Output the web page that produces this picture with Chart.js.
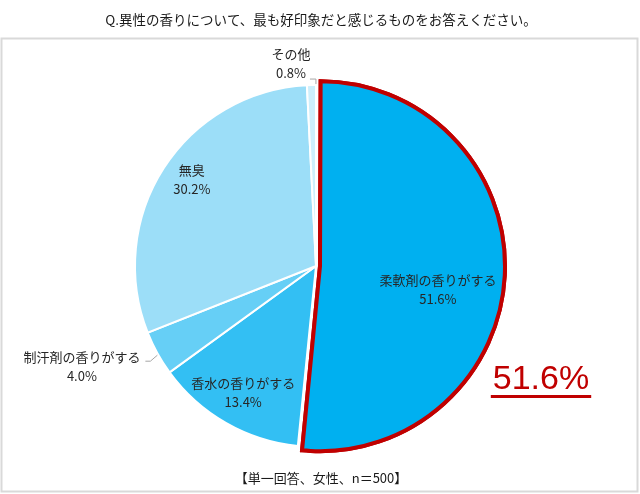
<!DOCTYPE html>
<html lang="ja">
<head>
<meta charset="utf-8">
<title>異性の香り</title>
<script src="https://cdn.jsdelivr.net/npm/chart.js@4.4.1/dist/chart.umd.min.js"></script>
<style>
  html, body { margin: 0; padding: 0; background: #fff; }
  #wrap { width: 640px; height: 494px; position: relative; }
</style>
</head>
<body>
<div id="wrap"><canvas id="pieChart"></canvas></div>
<script>
// ===== Data =====
const categories = ['柔軟剤の香りがする', '香水の香りがする', '制汗剤の香りがする', '無臭', 'その他'];
const shares = [51.6, 13.4, 4.0, 30.2, 0.8];
const titleText = 'Q.異性の香りについて、最も好印象だと感じるものをお答えください。';
const footText = '【単一回答、女性、n＝500】';

// ===== Styling =====
const sliceColors = ['#00b0f0', '#33bff3', '#66cff6', '#9cdef8', '#cdeffc'];
const sliceBorders = ['#c00000', '#ffffff', '#ffffff', '#ffffff', '#ffffff'];
const sliceBorderW = [4, 2, 2, 2, 2];
const sliceOffset = [16, 0, 0, 0, 0];
const JP = '"Noto Sans CJK JP", "Noto Sans", sans-serif';
const LINE_H = 19;

// where each label sits relative to its slice
// inside: r = fraction of radius, turn = degrees nudged clockwise
// outside: leader points and text block relative to the slice's outer edge
const labelPlace = [
  { inside: true, r: 0.686, turn: 8 },
  { inside: true, r: 0.807, turn: 0 },
  { inside: false, leader: [[0, 2], [-7, 8], [-12, 8]], right: -17, top: 4 },
  { inside: true, r: 0.835, turn: 2 },
  { inside: false, leader: [[4.5, -1], [4.5, -6], [-1.5, -6]], right: -1, top: -31 }
];

function drawBlock(ctx, lines, cx, cy) {
  lines.forEach((t, k) => ctx.fillText(t, cx, cy + k * LINE_H));
}

// ===== Frame, title, labels =====
const decorPlugin = {
  id: 'decor',
  beforeDraw(chart) {
    const ctx = chart.ctx;
    ctx.save();
    ctx.strokeStyle = '#d9d9d9';
    ctx.lineWidth = 2;
    ctx.strokeRect(1.5, 38.5, 636, 453);
    ctx.fillStyle = '#1a1a1a';
    ctx.font = '13.5px ' + JP;
    ctx.textAlign = 'center';
    ctx.textBaseline = 'middle';
    ctx.fillText(titleText, 321, 20);
    ctx.font = '13px ' + JP;
    ctx.fillText(footText, 321, 478);
    ctx.restore();
  },
  afterDatasetsDraw(chart) {
    const ctx = chart.ctx;
    const meta = chart.getDatasetMeta(0);
    // keep the red outline of the top answer above its neighbours
    meta.data[0].draw(ctx);

    ctx.save();
    ctx.font = '13px ' + JP;
    ctx.fillStyle = '#262626';
    ctx.textAlign = 'center';
    ctx.textBaseline = 'middle';
    meta.data.forEach((arc, i) => {
      const p = arc.getProps(['x', 'y', 'startAngle', 'endAngle', 'outerRadius'], true);
      const mid = (p.startAngle + p.endAngle) / 2;
      const lines = [categories[i], shares[i].toFixed(1) + '%'];
      const pl = labelPlace[i];
      if (pl.inside) {
        const a = mid + pl.turn * Math.PI / 180;
        const cx = p.x + Math.cos(a) * p.outerRadius * pl.r;
        const cy = p.y + Math.sin(a) * p.outerRadius * pl.r;
        drawBlock(ctx, lines, cx, cy - LINE_H / 2);
      } else {
        const ex = p.x + Math.cos(mid) * p.outerRadius;
        const ey = p.y + Math.sin(mid) * p.outerRadius;
        ctx.strokeStyle = '#a6a6a6';
        ctx.lineWidth = 1;
        ctx.beginPath();
        pl.leader.forEach(([dx, dy], k) => {
          if (k === 0) ctx.moveTo(ex + dx, ey + dy); else ctx.lineTo(ex + dx, ey + dy);
        });
        ctx.stroke();
        const w = Math.max(...lines.map(t => ctx.measureText(t).width));
        const cx = ex + pl.right - w / 2;
        drawBlock(ctx, lines, cx, ey + pl.top);
      }
    });

    // highlighted share
    const big = shares[0].toFixed(1) + '%';
    ctx.font = '34px "Liberation Sans", Arial, sans-serif';
    ctx.fillStyle = '#c00000';
    ctx.textBaseline = 'alphabetic';
    ctx.fillText(big, 541, 389);
    const bw = ctx.measureText(big).width;
    ctx.fillRect(541 - bw / 2 - 2, 395, bw + 4, 3);
    ctx.restore();
  }
};

// ===== Pie Chart =====
new Chart(document.getElementById('pieChart'), {
  type: 'pie',
  data: {
    labels: categories,
    datasets: [{
      data: shares,
      backgroundColor: sliceColors,
      borderColor: sliceBorders,
      borderWidth: sliceBorderW,
      borderJoinStyle: 'miter',
      offset: sliceOffset
    }]
  },
  options: {
    responsive: true,
    maintainAspectRatio: false,
    animation: false,
    events: [],
    radius: 181,
    layout: { padding: { left: 0, right: 8, top: 80, bottom: 42 } },
    plugins: {
      legend: { display: false },
      tooltip: { enabled: false },
      title: { display: false }
    }
  },
  plugins: [decorPlugin]
});
</script>
</body>
</html>
